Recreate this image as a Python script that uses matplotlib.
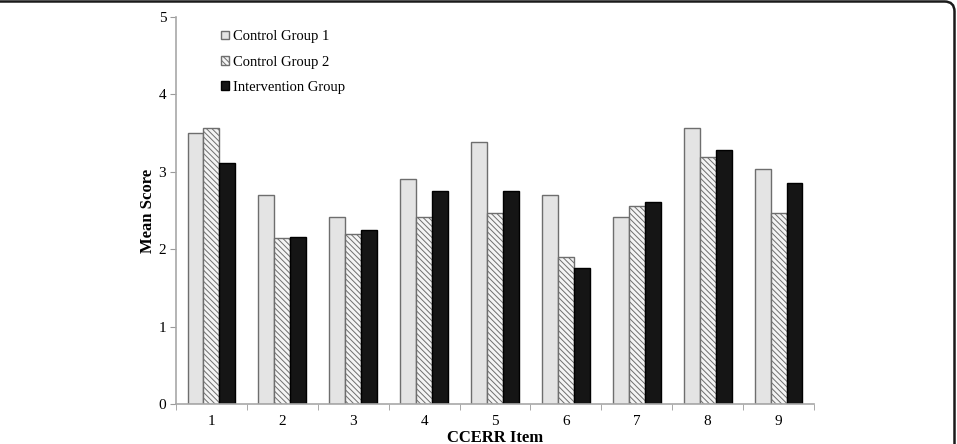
import matplotlib
matplotlib.use("Agg")
import matplotlib.pyplot as plt
import numpy as np
from matplotlib.patches import FancyBboxPatch

items = ["1", "2", "3", "4", "5", "6", "7", "8", "9"]
control_1 = [3.50, 2.70, 2.42, 2.91, 3.39, 2.70, 2.41, 3.57, 3.03]
control_2 = [3.56, 2.15, 2.19, 2.41, 2.47, 1.90, 2.56, 3.19, 2.47]
intervention = [3.11, 2.16, 2.25, 2.75, 2.75, 1.76, 2.61, 3.28, 2.86]
series_names = ["Control Group 1", "Control Group 2", "Intervention Group"]

W, H = 957, 444
plt.rcParams["font.family"] = ["Liberation Serif", "DejaVu Serif"]
plt.rcParams["hatch.linewidth"] = 0.7

fig = plt.figure(figsize=(W / 100, H / 100), dpi=100, facecolor="white")

# rounded frame around the figure (bottom/left run off the picture)
bg = fig.add_axes([0, 0, 1, 1])
bg.set_xlim(0, W)
bg.set_ylim(H, 0)
bg.axis("off")
bg.add_patch(FancyBboxPatch((-30, 1.5), W + 30 - 2.5, H + 40, boxstyle="round,pad=0,rounding_size=10",
                            linewidth=1.8, edgecolor="#1a1a1a", facecolor="white"))

ax = fig.add_axes([176 / W, (H - 404) / H, (814 - 176) / W, (404 - 17) / H])
ax.set_facecolor("none")

x = np.arange(1, len(items) + 1)
bw = 0.225
ax.bar(x - bw, control_1, bw, color="#e4e4e4", edgecolor="#6e6e6e", linewidth=1.0, label=series_names[0])
ax.bar(x, control_2, bw, color="#f4f4f4", edgecolor="#6e6e6e", hatch="\\\\\\\\\\\\", linewidth=1.0,
       label=series_names[1])
ax.bar(x + bw, intervention, bw, color="#151515", edgecolor="#000000", linewidth=1.0, label=series_names[2])

ax.set_xlim(0.5, len(items) + 0.5)
ax.set_ylim(0, 5)
ax.set_yticks([0, 1, 2, 3, 4, 5])
ax.set_xticks(x)
ax.set_xticklabels(items)
ax.set_xticks(np.arange(0.5, len(items) + 1, 1), minor=True)
ax.tick_params(axis="x", which="major", length=0, labelsize=11, pad=8)
ax.tick_params(axis="x", which="minor", length=4, color="#9a9a9a", direction="out")
ax.tick_params(axis="y", length=4, color="#9a9a9a", direction="out", labelsize=11, pad=3)

for side in ["top", "right"]:
    ax.spines[side].set_visible(False)
for side in ["left", "bottom"]:
    ax.spines[side].set_color("#a8a8a8")
    ax.spines[side].set_linewidth(1.2)

ax.set_ylabel("Mean Score", fontsize=12, fontweight="bold", labelpad=2)
ax.set_xlabel("CCERR Item", fontsize=12, fontweight="bold", labelpad=1)

leg = ax.legend(loc="upper left", bbox_to_anchor=(0.05, 1.0), frameon=False, fontsize=10.5,
                handlelength=0.55, handleheight=0.55, handletextpad=0.3, labelspacing=0.85)

fig.savefig("out.png", dpi=100, facecolor="white")
